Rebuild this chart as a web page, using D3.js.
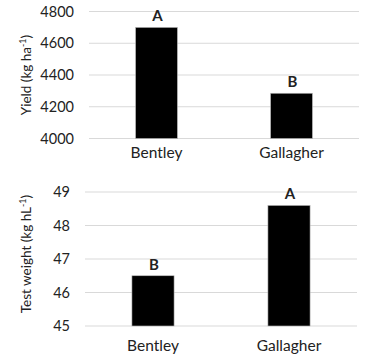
<!DOCTYPE html>
<html><head><meta charset="utf-8">
<script src="https://cdn.jsdelivr.net/npm/d3@7"></script>
<style>body{margin:0;background:#fff}svg{display:block}text{font-family:Lato,"Open Sans",sans-serif;fill:#222}</style>
</head><body><svg id="c" width="367" height="358"></svg>
<script>
const categories = ["Bentley", "Gallagher"];
const yieldValues = [4700, 4285];
const yieldLetters = ["A", "B"];
const yieldTicks = [4000, 4200, 4400, 4600, 4800];
const testWeightValues = [46.5, 48.6];
const testWeightLetters = ["B", "A"];
const testWeightTicks = [45, 46, 47, 48, 49];

const svg = d3.select("#c");

function panel(cfg) {
  const g = svg.append("g");
  const x = d3.scaleBand().domain(categories).range([cfg.x0, cfg.x1]).paddingInner(0.69).paddingOuter(0.345);
  const y = d3.scaleLinear().domain([cfg.ticks[0], cfg.ticks[cfg.ticks.length-1]]).range([cfg.yb, cfg.yt]);
  g.selectAll("line.grid").data(cfg.ticks).join("line")
    .attr("x1", cfg.x0).attr("x2", cfg.x1)
    .attr("y1", d => y(d)).attr("y2", d => y(d))
    .attr("stroke", "#d9d9d9").attr("stroke-width", 1);
  const ax = g.append("g").attr("transform", `translate(${cfg.x0 - cfg.labelGap},0)`)
    .call(d3.axisLeft(y).tickValues(cfg.ticks).tickSize(0).tickPadding(0).tickFormat(d3.format("d")));
  ax.select(".domain").remove();
  ax.selectAll("text").style("font-size", "14.5px").attr("fill", "#222").style("font-family", "Lato");
  g.selectAll("rect").data(cfg.values).join("rect")
    .attr("x", (d, i) => x(categories[i])).attr("width", x.bandwidth())
    .attr("y", d => y(d)).attr("height", d => y(cfg.ticks[0]) - y(d))
    .attr("fill", "#000").attr("stroke", "#bbb").attr("stroke-width", 0.6);
  g.selectAll("text.let").data(cfg.values).join("text").attr("class", "let")
    .attr("x", (d, i) => x(categories[i]) + x.bandwidth()/2 + 1)
    .attr("y", d => y(d) - 6)
    .attr("text-anchor", "middle").style("font-size", "15px").style("font-weight", "bold")
    .text((d, i) => cfg.letters[i]);
  const xa = g.append("g").attr("transform", `translate(0,${cfg.yb})`)
    .call(d3.axisBottom(x).tickSize(0).tickPadding(cfg.catPad));
  xa.select(".domain").remove();
  xa.selectAll("text").style("font-size", "15.5px").attr("fill", "#222").style("font-family", "Lato");
  const t = g.append("text").attr("transform", `translate(${cfg.titleX},${cfg.titleY}) rotate(-90)`)
    .attr("text-anchor", "middle").style("font-size", "13.5px");
  t.append("tspan").text(cfg.title);
  t.append("tspan").attr("dy", -5).style("font-size", "9px").text("-1");
  t.append("tspan").attr("dy", 5).text(")");
}

panel({x0: 89, x1: 359, yb: 138.5, yt: 11.5, ticks: yieldTicks, values: yieldValues, letters: yieldLetters,
  labelGap: 15, catPad: 8, title: "Yield (kg ha", titleX: 31, titleY: 75});
panel({x0: 85, x1: 357, yb: 326, yt: 192, ticks: testWeightTicks, values: testWeightValues, letters: testWeightLetters,
  labelGap: 15, catPad: 14, title: "Test weight (kg hL", titleX: 31, titleY: 254});
</script></body></html>
